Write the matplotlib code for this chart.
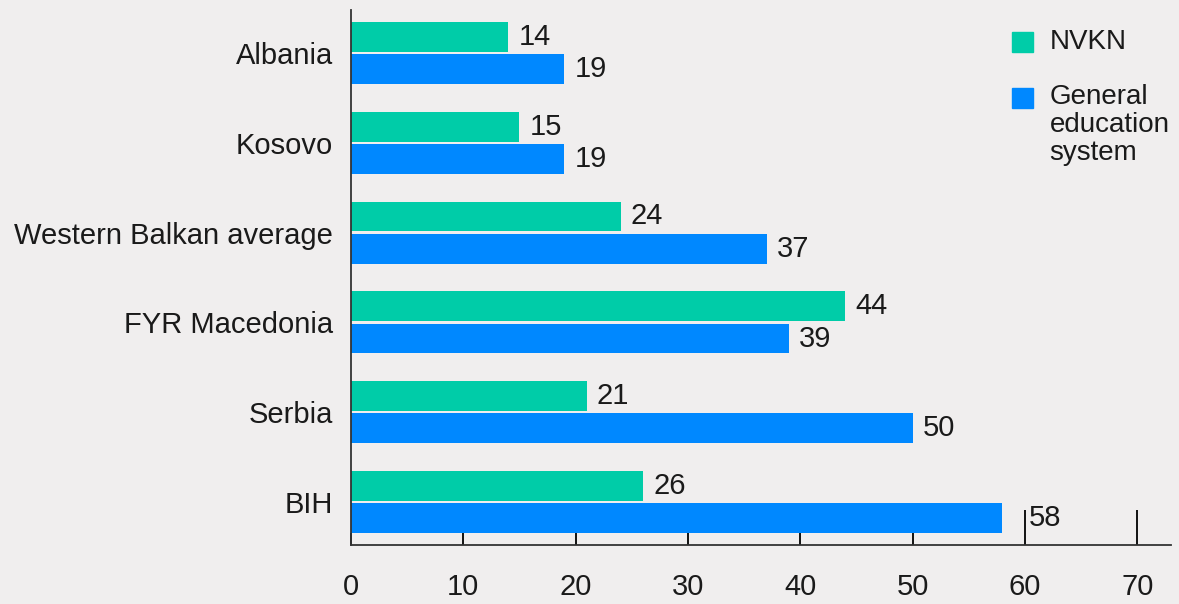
import matplotlib.pyplot as plt
from matplotlib.patches import Rectangle
import numpy as np

plt.rcParams['font.family'] = ['Liberation Sans', 'DejaVu Sans']

# data
countries = ['Albania', 'Kosovo', 'Western Balkan average', 'FYR Macedonia', 'Serbia', 'BIH']
nvkn = [14, 15, 24, 44, 21, 26]
general = [19, 19, 37, 39, 50, 58]
series_names = ['NVKN', 'General\neducation\nsystem']

bg = '#f0eeee'
c_green = '#00cca8'
c_blue = '#0088ff'
txt = '#1a1a1a'

fig = plt.figure(figsize=(11.79, 6.04), dpi=100, facecolor=bg)
ax = fig.add_axes([0.2977, 0.0977, 0.6955, 0.8857], facecolor=bg)

y = np.arange(len(countries))
h = 0.33
b1 = ax.barh(y - 0.18, nvkn, height=h, color=c_green)
b2 = ax.barh(y + 0.18, general, height=h, color=c_blue)

for bars, vals in [(b1, nvkn), (b2, general)]:
    for bar, v in zip(bars, vals):
        lx = bar.get_width() + 0.9
        # 긴 눈금(60, 70)과 겹치면 눈금 오른쪽으로
        for tk in (60, 70):
            if lx < tk < lx + 3:
                lx = tk + 0.35
        ax.text(lx, bar.get_y() + bar.get_height() / 2, str(v),
                va='center', ha='left', fontsize=21, color=txt)

ax.set_xlim(0, 73)
ax.set_ylim(5.48, -0.48)
ax.set_yticks(y)
ax.set_yticklabels(countries, fontsize=21, color=txt)
ax.set_xticks(range(0, 71, 10))
ax.tick_params(axis='x', direction='in', length=9, width=1.3, pad=20, labelsize=21, labelcolor=txt)
ax.tick_params(axis='y', length=0, pad=13)

# taller ticks at 60 and 70
for t in ax.xaxis.get_major_ticks()[6:]:
    t.tick1line.set_markersize(25)

for s in ['top', 'right']:
    ax.spines[s].set_visible(False)
for s in ['left', 'bottom']:
    ax.spines[s].set_linewidth(1.3)
    ax.spines[s].set_color('#333333')

# legend, handle aligned with first text line
ax.add_patch(Rectangle((0.806, 0.9215), 0.0256, 0.0374, transform=ax.transAxes,
                       color=c_green, clip_on=False))
ax.add_patch(Rectangle((0.806, 0.8168), 0.0256, 0.0374, transform=ax.transAxes,
                       color=c_blue, clip_on=False))
ax.text(0.852, 0.940, series_names[0], transform=ax.transAxes, va='center', ha='left',
        fontsize=20, color=txt)
ax.text(0.852, 0.862, series_names[1], transform=ax.transAxes, va='top', ha='left',
        fontsize=20, color=txt, linespacing=1.1)

fig.savefig('out.png', dpi=100, facecolor=bg)
